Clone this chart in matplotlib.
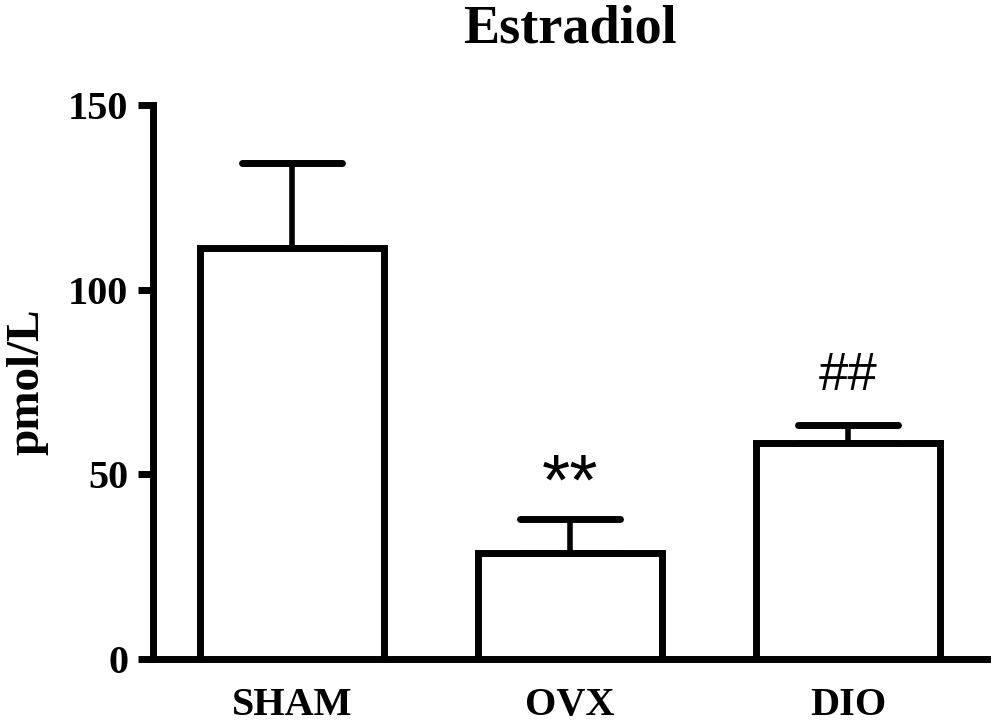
import matplotlib
matplotlib.use("Agg")
import matplotlib.pyplot as plt
from matplotlib.markers import MarkerStyle

categories = ["SHAM", "OVX", "DIO"]
means = [111.3, 28.7, 58.5]
sem = [23.0, 9.2, 4.9]
annotations = ["", "**", "##"]
yticks = [0, 50, 100, 150]

serif = ["Liberation Serif", "DejaVu Serif"]
sans = ["Liberation Sans", "DejaVu Sans"]

fig = plt.figure(figsize=(9.97, 7.26), dpi=100)
ax = fig.add_axes([0.1535, 0.0923, 0.990 - 0.1535, 0.8554 - 0.0923])

x = list(range(len(categories)))
ax.bar(x, means, width=0.66, color="white", edgecolor="black", linewidth=5, zorder=3)
eb = ax.errorbar(x, means, yerr=[[0] * len(sem), sem], fmt="none", ecolor="black",
                 elinewidth=4, capsize=36, capthick=5, zorder=2)
for cl in eb[1]:
    cl.set_marker(MarkerStyle("_", capstyle="round"))

annot_style = {"**": (4.0, 52), "##": (9.4, 38)}
for xi, m, s, a in zip(x, means, sem, annotations):
    if a:
        off, fs = annot_style[a]
        ax.text(xi, m + s + off, a, ha="center", va="baseline", fontsize=fs, family=sans)

ax.set_xlim(-0.5, 2.5)
ax.set_ylim(0, 150)
ax.set_yticks(yticks)
ax.set_xticks(x)
ax.set_xticklabels(categories)

for s in ["top", "right"]:
    ax.spines[s].set_visible(False)
for s in ["left", "bottom"]:
    ax.spines[s].set_linewidth(5)
    ax.spines[s].set_capstyle("projecting")

ax.tick_params(axis="y", length=11, width=5, pad=7, direction="out")
ax.tick_params(axis="x", length=0, pad=20)
for lab in ax.get_xticklabels() + ax.get_yticklabels():
    lab.set_fontfamily(serif)
    lab.set_fontweight("bold")
    lab.set_fontsize(29)

ax.set_ylabel("pmol/L", fontsize=34, fontweight="bold", family=serif, labelpad=14)
ax.set_title("Estradiol", fontsize=39, fontweight="bold", family=serif, pad=45)

fig.savefig("out.png", dpi=100)
